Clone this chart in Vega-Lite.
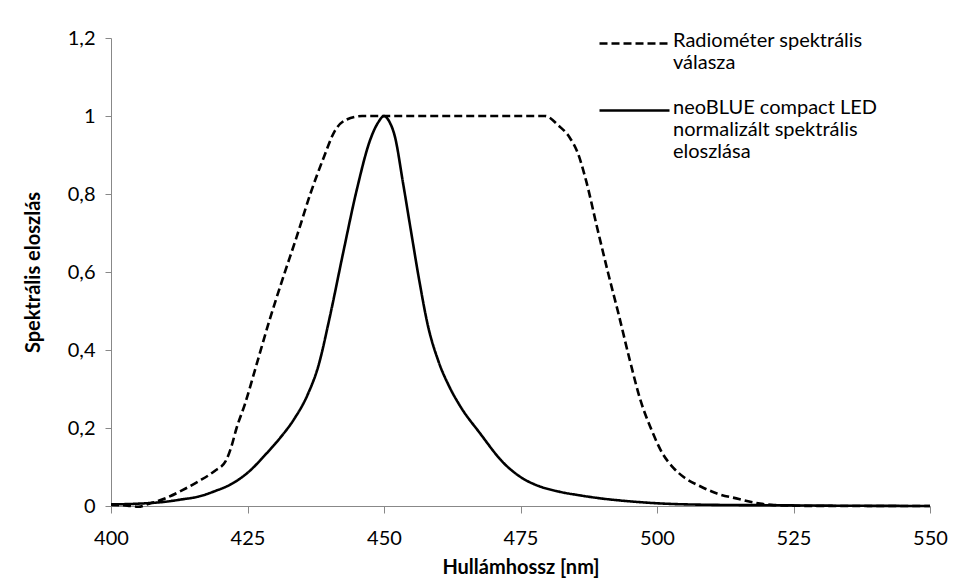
{
  "$schema": "https://vega.github.io/schema/vega-lite/v6.json",
  "autosize": {"type": "none"},
  "width": 819,
  "height": 468,
  "padding": {"left": 111, "top": 38, "right": 25, "bottom": 73},
  "background": "white",
  "config": {
    "view": {"stroke": null},
    "font": "Lato",
    "axis": {"labelFont": "Lato", "titleFont": "Lato", "labelColor": "black", "titleColor": "black", "domainColor": "#888888", "tickColor": "#888888", "grid": false}
  },
  "data": {"values": [
    {"wl": 400, "v": 0.003, "s": "r"},
    {"wl": 403, "v": 0.001, "s": "r"},
    {"wl": 405, "v": -0.002, "s": "r"},
    {"wl": 407, "v": 0.006, "s": "r"},
    {"wl": 410, "v": 0.02, "s": "r"},
    {"wl": 413, "v": 0.04, "s": "r"},
    {"wl": 416, "v": 0.063, "s": "r"},
    {"wl": 419, "v": 0.09, "s": "r"},
    {"wl": 421, "v": 0.115, "s": "r"},
    {"wl": 422, "v": 0.15, "s": "r"},
    {"wl": 423, "v": 0.2, "s": "r"},
    {"wl": 424.5, "v": 0.26, "s": "r"},
    {"wl": 426.5, "v": 0.355, "s": "r"},
    {"wl": 429, "v": 0.475, "s": "r"},
    {"wl": 431.5, "v": 0.585, "s": "r"},
    {"wl": 434, "v": 0.69, "s": "r"},
    {"wl": 436.5, "v": 0.8, "s": "r"},
    {"wl": 439, "v": 0.895, "s": "r"},
    {"wl": 441, "v": 0.962, "s": "r"},
    {"wl": 443, "v": 0.99, "s": "r"},
    {"wl": 446, "v": 1.0, "s": "r"},
    {"wl": 460, "v": 1.0, "s": "r"},
    {"wl": 479.5, "v": 1.0, "s": "r"},
    {"wl": 482, "v": 0.975, "s": "r"},
    {"wl": 484, "v": 0.945, "s": "r"},
    {"wl": 485.5, "v": 0.905, "s": "r"},
    {"wl": 487, "v": 0.835, "s": "r"},
    {"wl": 489, "v": 0.716, "s": "r"},
    {"wl": 491, "v": 0.6, "s": "r"},
    {"wl": 493, "v": 0.49, "s": "r"},
    {"wl": 495, "v": 0.375, "s": "r"},
    {"wl": 497, "v": 0.27, "s": "r"},
    {"wl": 499, "v": 0.195, "s": "r"},
    {"wl": 501, "v": 0.135, "s": "r"},
    {"wl": 503, "v": 0.098, "s": "r"},
    {"wl": 505, "v": 0.073, "s": "r"},
    {"wl": 508, "v": 0.05, "s": "r"},
    {"wl": 511, "v": 0.032, "s": "r"},
    {"wl": 515, "v": 0.018, "s": "r"},
    {"wl": 518, "v": 0.008, "s": "r"},
    {"wl": 521, "v": 0.003, "s": "r"},
    {"wl": 525, "v": 0.001, "s": "r"},
    {"wl": 530, "v": 0, "s": "r"},
    {"wl": 550, "v": 0, "s": "r"},
    {"wl": 400, "v": 0.004, "s": "n"},
    {"wl": 405, "v": 0.006, "s": "n"},
    {"wl": 410, "v": 0.011, "s": "n"},
    {"wl": 413, "v": 0.017, "s": "n"},
    {"wl": 416, "v": 0.024, "s": "n"},
    {"wl": 419, "v": 0.038, "s": "n"},
    {"wl": 422, "v": 0.056, "s": "n"},
    {"wl": 425, "v": 0.085, "s": "n"},
    {"wl": 428.5, "v": 0.135, "s": "n"},
    {"wl": 431, "v": 0.175, "s": "n"},
    {"wl": 433.5, "v": 0.222, "s": "n"},
    {"wl": 436, "v": 0.285, "s": "n"},
    {"wl": 438, "v": 0.36, "s": "n"},
    {"wl": 440, "v": 0.48, "s": "n"},
    {"wl": 442.5, "v": 0.648, "s": "n"},
    {"wl": 445, "v": 0.81, "s": "n"},
    {"wl": 447.5, "v": 0.94, "s": "n"},
    {"wl": 449, "v": 0.985, "s": "n"},
    {"wl": 450, "v": 1.0, "s": "n"},
    {"wl": 451, "v": 0.985, "s": "n"},
    {"wl": 452, "v": 0.947, "s": "n"},
    {"wl": 453.5, "v": 0.827, "s": "n"},
    {"wl": 455, "v": 0.7, "s": "n"},
    {"wl": 456.5, "v": 0.575, "s": "n"},
    {"wl": 458, "v": 0.465, "s": "n"},
    {"wl": 460, "v": 0.37, "s": "n"},
    {"wl": 462, "v": 0.305, "s": "n"},
    {"wl": 464, "v": 0.255, "s": "n"},
    {"wl": 467.5, "v": 0.188, "s": "n"},
    {"wl": 472, "v": 0.109, "s": "n"},
    {"wl": 475.5, "v": 0.07, "s": "n"},
    {"wl": 478, "v": 0.053, "s": "n"},
    {"wl": 482, "v": 0.037, "s": "n"},
    {"wl": 486, "v": 0.027, "s": "n"},
    {"wl": 490, "v": 0.019, "s": "n"},
    {"wl": 495, "v": 0.012, "s": "n"},
    {"wl": 500, "v": 0.007, "s": "n"},
    {"wl": 510, "v": 0.003, "s": "n"},
    {"wl": 520, "v": 0.002, "s": "n"},
    {"wl": 530, "v": 0.001, "s": "n"},
    {"wl": 550, "v": 0.0, "s": "n"}
  ]},
  "mark": {"type": "line", "interpolate": "monotone", "color": "black", "strokeWidth": 2.6, "clip": false},
  "encoding": {
    "x": {
      "field": "wl", "type": "quantitative",
      "scale": {"domain": [400, 550], "nice": false, "zero": false},
      "axis": {"values": [400, 425, 450, 475, 500, 525, 550], "title": "Hullámhossz [nm]", "titleFontSize": 20, "titleFontWeight": "bold", "labelFontSize": 20, "tickSize": 7, "labelPadding": 15, "titlePadding": 9, "labelFlush": false}
    },
    "y": {
      "field": "v", "type": "quantitative",
      "scale": {"domain": [0, 1.2], "nice": false},
      "axis": {"values": [0, 0.2, 0.4, 0.6, 0.8, 1, 1.2], "title": "Spektrális eloszlás", "titleFontSize": 20, "titleFontWeight": "bold", "labelFontSize": 20, "tickSize": 6, "labelPadding": 10, "titlePadding": 24,
        "labelExpr": "replace(format(datum.value, '.1~f'), '.', ',')"}
    },
    "strokeDash": {
      "field": "s", "type": "nominal",
      "scale": {"domain": ["r", "n"], "range": [[8, 4], [1, 0]]},
      "legend": {
        "title": null, "orient": "none", "legendX": 487, "legendY": -31,
        "symbolType": "stroke", "symbolSize": 4900, "symbolStrokeWidth": 2.6, "symbolStrokeColor": "black",
        "labelFontSize": 20, "labelFont": "Lato", "labelColor": "black", "labelLimit": 400, "labelOffset": 2,
        "labelBaseline": "top", "labelLineHeight": 26, "rowPadding": 1, "padding": 0,
        "labelExpr": "datum.value == 'r' ? ['Radiométer spektrális', 'válasza'] : ['neoBLUE compact LED', 'normalizált spektrális', 'eloszlása']",
        "encode": {"labels": {"update": {"dy": {"value": -13}}}}
      }
    }
  }
}
